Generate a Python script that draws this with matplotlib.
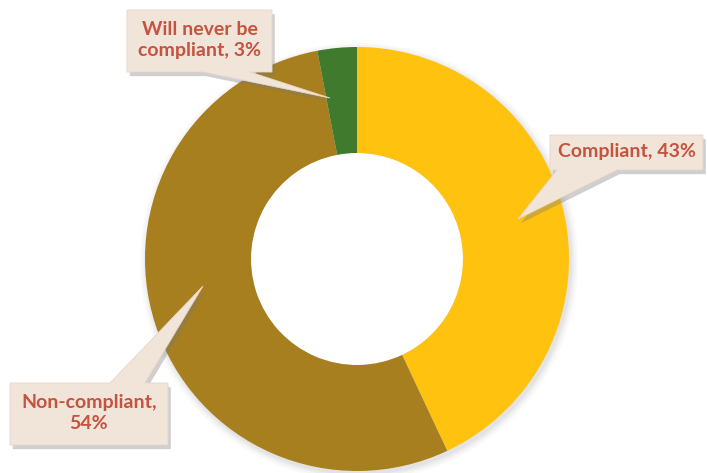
import matplotlib
matplotlib.use("Agg")
import matplotlib.pyplot as plt
from matplotlib.patches import Polygon, Circle
import matplotlib.patheffects as pe

# ---- data ----
categories = ["Compliant", "Non-compliant", "Will never be compliant"]
values = [43, 54, 3]
labels = ["Compliant, 43%", "Non-compliant,\n54%", "Will never be\ncompliant, 3%"]
colors = ["#FFC20F", "#A87F1E", "#3F7A2D"]

W, H = 707, 473
fig = plt.figure(figsize=(W / 100, H / 100), dpi=100)
ax = fig.add_axes([0, 0, 1, 1])

def Y(y):  # pixel row -> data y
    return H - y

cx, cy, R, ring = 357, 259, 212, 106

# soft shadow behind the ring
for k, a in [(7, 0.03), (5, 0.04), (3, 0.06), (1, 0.08)]:
    ax.add_patch(Circle((cx + 2, Y(cy) - 3), R + k, facecolor="#7a7a7a",
                        edgecolor="none", alpha=a, zorder=0))

wedges, _ = ax.pie(values, colors=colors, startangle=90, counterclock=False,
                   radius=R, center=(cx, Y(cy)),
                   wedgeprops=dict(width=ring, linewidth=0))
for w in wedges:
    w.set_zorder(2)
ax.add_patch(Circle((cx, Y(cy)), R - ring, facecolor="white", edgecolor="none", zorder=1.5))

# callout layouts in pixel coords: box (x0, y0, x1, y1), pointer base side, base x-range, tip
callouts = [
    dict(box=(550, 135, 703, 170), side="bottom", base=(557, 617), tip=(518, 219)),
    dict(box=(10, 383, 168, 445), side="top", base=(110, 145), tip=(203, 286)),
    dict(box=(127, 10, 272, 72), side="bottom", base=(203, 250), tip=(330, 98)),
]

for lab, c in zip(labels, callouts):
    x0, y0, x1, y1 = c["box"]
    b0, b1 = c["base"]
    tx, ty = c["tip"]
    if c["side"] == "bottom":
        pts = [(x0, y0), (x1, y0), (x1, y1), (b1, y1), (tx, ty), (b0, y1), (x0, y1)]
    else:
        pts = [(x0, y0), (b0, y0), (tx, ty), (b1, y0), (x1, y0), (x1, y1), (x0, y1)]
    poly = Polygon([(px, Y(py)) for px, py in pts], closed=True,
                   facecolor="#F1E4D8", edgecolor="#E6D6C8", linewidth=0.6, zorder=5)
    poly.set_path_effects([pe.SimplePatchShadow(offset=(2, -3), shadow_rgbFace="#777777", alpha=0.35),
                           pe.Normal()])
    ax.add_patch(poly)
    ax.text((x0 + x1) / 2, Y((y0 + y1) / 2) + 1, lab, ha="center", va="center",
            fontsize=14, fontweight="bold", family=["Lato", "DejaVu Sans"],
            color="#C4533F", linespacing=1.35, zorder=6)

ax.set_xlim(0, W)
ax.set_ylim(0, H)
ax.set_aspect("equal")
ax.axis("off")
fig.savefig("out.png", dpi=100)
